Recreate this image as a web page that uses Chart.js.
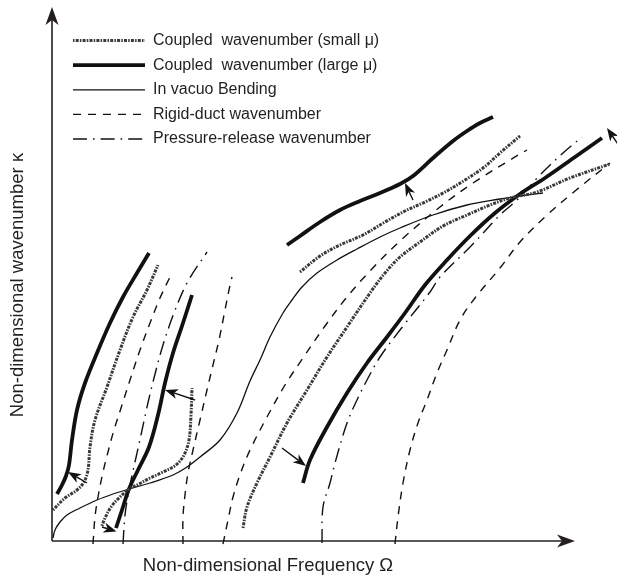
<!DOCTYPE html>
<html>
<head>
<meta charset="utf-8">
<script src="https://cdn.jsdelivr.net/npm/chart.js@4/dist/chart.umd.min.js"></script>
<style>
  html, body { margin: 0; padding: 0; background: #ffffff; }
  canvas { display: block; }
</style>
</head>
<body>
<canvas id="dispersion" width="617" height="584"></canvas>
<script>
// Dispersion curves: non-dimensional frequency Ω (x) against wavenumber κ (y).
// Each branch is a list of [Ω, κ] pairs.

const inVacuoBending = [[0.2,0.6],[0.6,2.2],[1.6,3.8],[3,5.2],[5.6,6.6],[9,8.2],[12.2,9.4],[15.4,10.4],
  [19.6,11.6],[24.2,13.2],[27,14.8],[29.6,16.8],[33.6,20.2],[37,25.6],[39.6,32],[41.6,36.2],[43.6,40.8],
  [46.2,45.6],[48,48.2],[50,50.8],[53,53.6],[57,56.2],[61,58.4],[65.6,60.8],[69.6,62.6],[76.2,65.2],
  [83,67.2],[89.6,68.4],[93.6,69],[98.2,69.6]];

const coupledLargeMu1 = [[1,9.4],[2,11.2],[2.8,13],[3.4,15.2],[4,20.2],[5,26.2],[6.6,31.6],[9,37.6],
  [11.6,43.6],[14.2,48.8],[17,53.6],[19.4,57.6]];
const coupledLargeMu2 = [[12.8,2.6],[14,6.2],[15.4,10.4],[17.2,14.2],[19.4,18.8],[21.2,25.2],[22.6,31.6],
  [24.2,37.6],[26.2,43.6],[28,49.2]];
const coupledLargeMu3 = [[47,59.2],[49.6,61],[53.6,63.8],[57.6,66.2],[61.6,68],[65.6,69.6],[69.6,71.4],
  [72.2,73],[76.2,76.6],[80.2,80],[83,82],[85.6,83.6],[88.2,84.8]];
const coupledLargeMu4 = [[50.2,11.6],[51.6,16.2],[55,22.8],[59,29.6],[63,35.6],[67,40.8],[70.6,45.6],
  [74.6,51.2],[79,56.2],[83.6,61],[88.6,65.6],[93.6,69.4],[98.6,72.6],[104.6,76.8],[110,80.6]];

const coupledSmallMu1 = [[0.2,6.2],[2.6,8.6],[5,10.2],[6.4,11.8],[7.2,14.2],[7.6,18.8],[8.6,24.2],[11,30.8],
  [13.6,38.2],[16.2,44.8],[19,50.2],[21.2,55.2]];
const coupledSmallMu2 = [[10,3],[10.6,4.6],[11.8,6.8],[13.6,8.8],[15.4,10.4],[17.4,11.4],[19.6,12.6],
  [22.2,13.8],[24.8,15.2],[26.4,17.2],[27.4,20.2],[27.8,25.2],[28,30.6]];
const coupledSmallMu3 = [[49.6,53.8],[53.6,57],[57.6,59.2],[62.2,61.2],[66.6,63.8],[70.6,66],[74.6,67.8],
  [78.6,69.8],[82.6,72.2],[86.2,74.6],[89.6,77.6],[93.6,81]];
const coupledSmallMu4 = [[38.2,2.6],[39,6.8],[41,11.6],[43.6,16.8],[47,23.6],[51,30.2],[55,36.8],[59,42.8],
  [63.6,49.6],[66.6,53.6],[69.6,56.8],[73.6,59.8],[78.2,63],[83,65.2],[87.6,67.2],[91.6,68.6],[97,69.8],
  [103.6,72.6],[111.6,75.4]];

const rigidDuct1 = [[8.2,-0.6],[8.6,4.8],[9.2,8.8],[10.2,13.8],[11.2,17.8],[12.4,22.2],[14,27.2],[15.6,32.2],
  [17.6,38.2],[19.6,43.6],[21.6,48.6],[23.6,52.8]];
const rigidDuct2 = [[26.2,-0.6],[26.2,4.8],[26.6,9.2],[27.2,13.6],[28.2,18.2],[29.6,24.2],[31,30.2],
  [32.2,35.2],[33.4,40.2],[34.6,46.2],[35.4,50.2],[36,52.8]];
const rigidDuct3 = [[34.2,-0.6],[35.2,4.2],[36.2,8.8],[37.8,13.8],[39.6,18.2],[43,24.8],[46.6,31.2],
  [50.2,36.6],[54.6,43],[59,48.8],[63.6,54],[69.6,60],[77.6,66.8],[84.2,71.6],[91.6,76.2],[95,78.2]];
const rigidDuct4 = [[68.6,-0.6],[69.2,4.8],[70.2,11.6],[71.6,18.2],[73.2,23.6],[75,28.2],[77,33.6],[79,38.2],
  [81.6,44.2],[84.6,48.6],[89.6,54.6],[93.6,59.8],[99,65.2],[104.6,70],[111.6,75.6]];

const pressureRelease1 = [[14.2,-0.6],[14.6,5.2],[15.4,10.2],[16.6,15.8],[17.8,21.2],[19,26.8],[20.4,32.6],
  [22.2,39.2],[24.4,45.6],[27,51.6],[31,57.8]];
const pressureRelease2 = [[54,-0.4],[54.2,6.8],[55.6,11.6],[56.6,15.6],[59,23.6],[61,28.2],[63,32.2],
  [65.6,36.8],[69.6,42.2],[75.6,49.8],[77.6,52.8],[84,59.2],[89.6,65.2],[93,68.2],[97.6,73.2],[102.2,77.6],
  [106,80.8]];

// Arrows from the small-μ branches to the large-μ branches (tail -> head)
const arrowTails = [[7,11.6],[28.6,28.2],[10,2.8],[46,18.6],[72.2,68.2],[114,78.2]];
const arrowHeads = [[3.2,13.8],[22.6,30.2],[12.9,1.9],[50.8,15],[70.6,71.6],[111,82.6]];

const legendLabels = ['Coupled  wavenumber (small \u03bc)', 'Coupled  wavenumber (large \u03bc)',
  'In vacuo Bending', 'Rigid-duct wavenumber', 'Pressure-release wavenumber'];
const legendKinds = ['small', 'large', 'bending', 'rigid', 'release'];

const xTitle = 'Non-dimensional Frequency \u03a9';
const yTitle = 'Non-dimensional wavenumber \u03ba';

// Visible window of the plot frame and the axis arrow tips
const OMEGA_MIN = 2.48, OMEGA_MAX = 83.92;
const KAPPA_MIN = -0.8, KAPPA_MAX = 103.2;
const AXIS_END = [104.6, 106.8];

const INK = '#231f20';
const STYLE = {
  small:   { borderColor: '#3a3a3a', borderWidth: 3,   borderDash: [1.5, 1.2, 3, 1.2] },
  large:   { borderColor: '#111111', borderWidth: 3.8, borderDash: [] },
  bending: { borderColor: '#111111', borderWidth: 1.3, borderDash: [] },
  rigid:   { borderColor: '#111111', borderWidth: 1.4, borderDash: [8, 7] },
  release: { borderColor: '#111111', borderWidth: 1.4, borderDash: [14, 6, 1.6, 6] }
};

const series = [
  ['small', coupledSmallMu1], ['small', coupledSmallMu2], ['small', coupledSmallMu3], ['small', coupledSmallMu4],
  ['large', coupledLargeMu1], ['large', coupledLargeMu2], ['large', coupledLargeMu3], ['large', coupledLargeMu4],
  ['bending', inVacuoBending],
  ['rigid', rigidDuct1], ['rigid', rigidDuct2], ['rigid', rigidDuct3], ['rigid', rigidDuct4],
  ['release', pressureRelease1], ['release', pressureRelease2]
];

const datasets = series.map(([kind, pts]) => Object.assign({
  data: pts.map(p => ({ x: p[0], y: p[1] })),
  clip: false,
  fill: false,
  pointRadius: 0,
  tension: 0.35
}, STYLE[kind]));

function drawArrow(ctx, x1, y1, x2, y2, len, half) {
  const dx = x2 - x1, dy = y2 - y1, d = Math.hypot(dx, dy);
  const ux = dx / d, uy = dy / d, nx = -uy, ny = ux;
  const bx = x2 - ux * len, by = y2 - uy * len;
  const notch = len * 0.72;
  ctx.beginPath();
  ctx.moveTo(x1, y1);
  ctx.lineTo(x2 - ux * notch, y2 - uy * notch);
  ctx.stroke();
  ctx.beginPath();
  ctx.moveTo(x2, y2);
  ctx.lineTo(bx + nx * half, by + ny * half);
  ctx.lineTo(x2 - ux * notch, y2 - uy * notch);
  ctx.lineTo(bx - nx * half, by - ny * half);
  ctx.closePath();
  ctx.fill();
}

const arrowPlugin = {
  id: 'axisArrows',
  afterDatasetsDraw(chart) {
    const { ctx, scales: { x, y } } = chart;
    const px = v => x.getPixelForValue(v), py = v => y.getPixelForValue(v);
    const ox = px(0), oy = py(0);
    ctx.save();
    ctx.setLineDash([]);
    ctx.strokeStyle = INK;
    ctx.fillStyle = INK;
    ctx.lineWidth = 1.6;
    drawArrow(ctx, ox, oy, px(AXIS_END[0]), oy, 18, 6.5);
    drawArrow(ctx, ox, oy, ox, py(AXIS_END[1]), 18, 6.5);
    ctx.strokeStyle = '#111111';
    ctx.fillStyle = '#111111';
    ctx.lineWidth = 1.4;
    arrowTails.forEach((t, i) => {
      const h = arrowHeads[i];
      drawArrow(ctx, px(t[0]), py(t[1]), px(h[0]), py(h[1]), 13, 5);
    });
    ctx.restore();
  }
};

Chart.defaults.font.family = '"Liberation Sans", Arial, Helvetica, sans-serif';
Chart.defaults.color = INK;

new Chart(document.getElementById('dispersion'), {
  type: 'line',
  data: { datasets },
  options: {
    responsive: false,
    animation: false,
    devicePixelRatio: 1,
    events: [],
    layout: { padding: { left: 0, top: 25, right: 145.4, bottom: 0 } },
    elements: {
      point: { radius: 0, hoverRadius: 0 },
      line: { capBezierPoints: false, borderCapStyle: 'butt', borderJoinStyle: 'round' }
    },
    scales: {
      x: {
        type: 'linear',
        position: 'bottom',
        bounds: 'data',
        afterDataLimits: s => { s.min = OMEGA_MIN; s.max = OMEGA_MAX; },
        grid: { display: false, drawTicks: false },
        border: { display: false },
        ticks: { display: false },
        title: { display: true, text: xTitle, color: INK, font: { size: 18.5 }, padding: { top: 9.9, bottom: 6.9 } }
      },
      y: {
        type: 'linear',
        position: 'left',
        bounds: 'data',
        afterDataLimits: s => { s.min = KAPPA_MIN; s.max = KAPPA_MAX; },
        grid: { display: false, drawTicks: false },
        border: { display: false },
        ticks: { display: false },
        title: { display: true, text: yTitle, color: INK, font: { size: 18.5 }, padding: { top: 6.9, bottom: 35.3 } }
      }
    },
    plugins: {
      tooltip: { enabled: false },
      legend: {
        position: 'chartArea',
        align: 'start',
        // empty title block only reserves the space above the first row
        title: { display: true, text: '', font: { size: 12 }, padding: { top: 9.6, bottom: 0 } },
        labels: {
          usePointStyle: true,
          pointStyleWidth: 72,
          padding: 8.6,
          color: INK,
          font: { size: 16 },
          generateLabels: () => legendLabels.map((text, i) => {
            const st = STYLE[legendKinds[i]];
            return {
              text,
              pointStyle: 'line',
              strokeStyle: st.borderColor,
              fillStyle: st.borderColor,
              lineWidth: st.borderWidth,
              lineDash: st.borderDash,
              fontColor: INK,
              hidden: false,
              datasetIndex: i
            };
          })
        }
      }
    }
  },
  plugins: [arrowPlugin]
});
</script>
</body>
</html>
